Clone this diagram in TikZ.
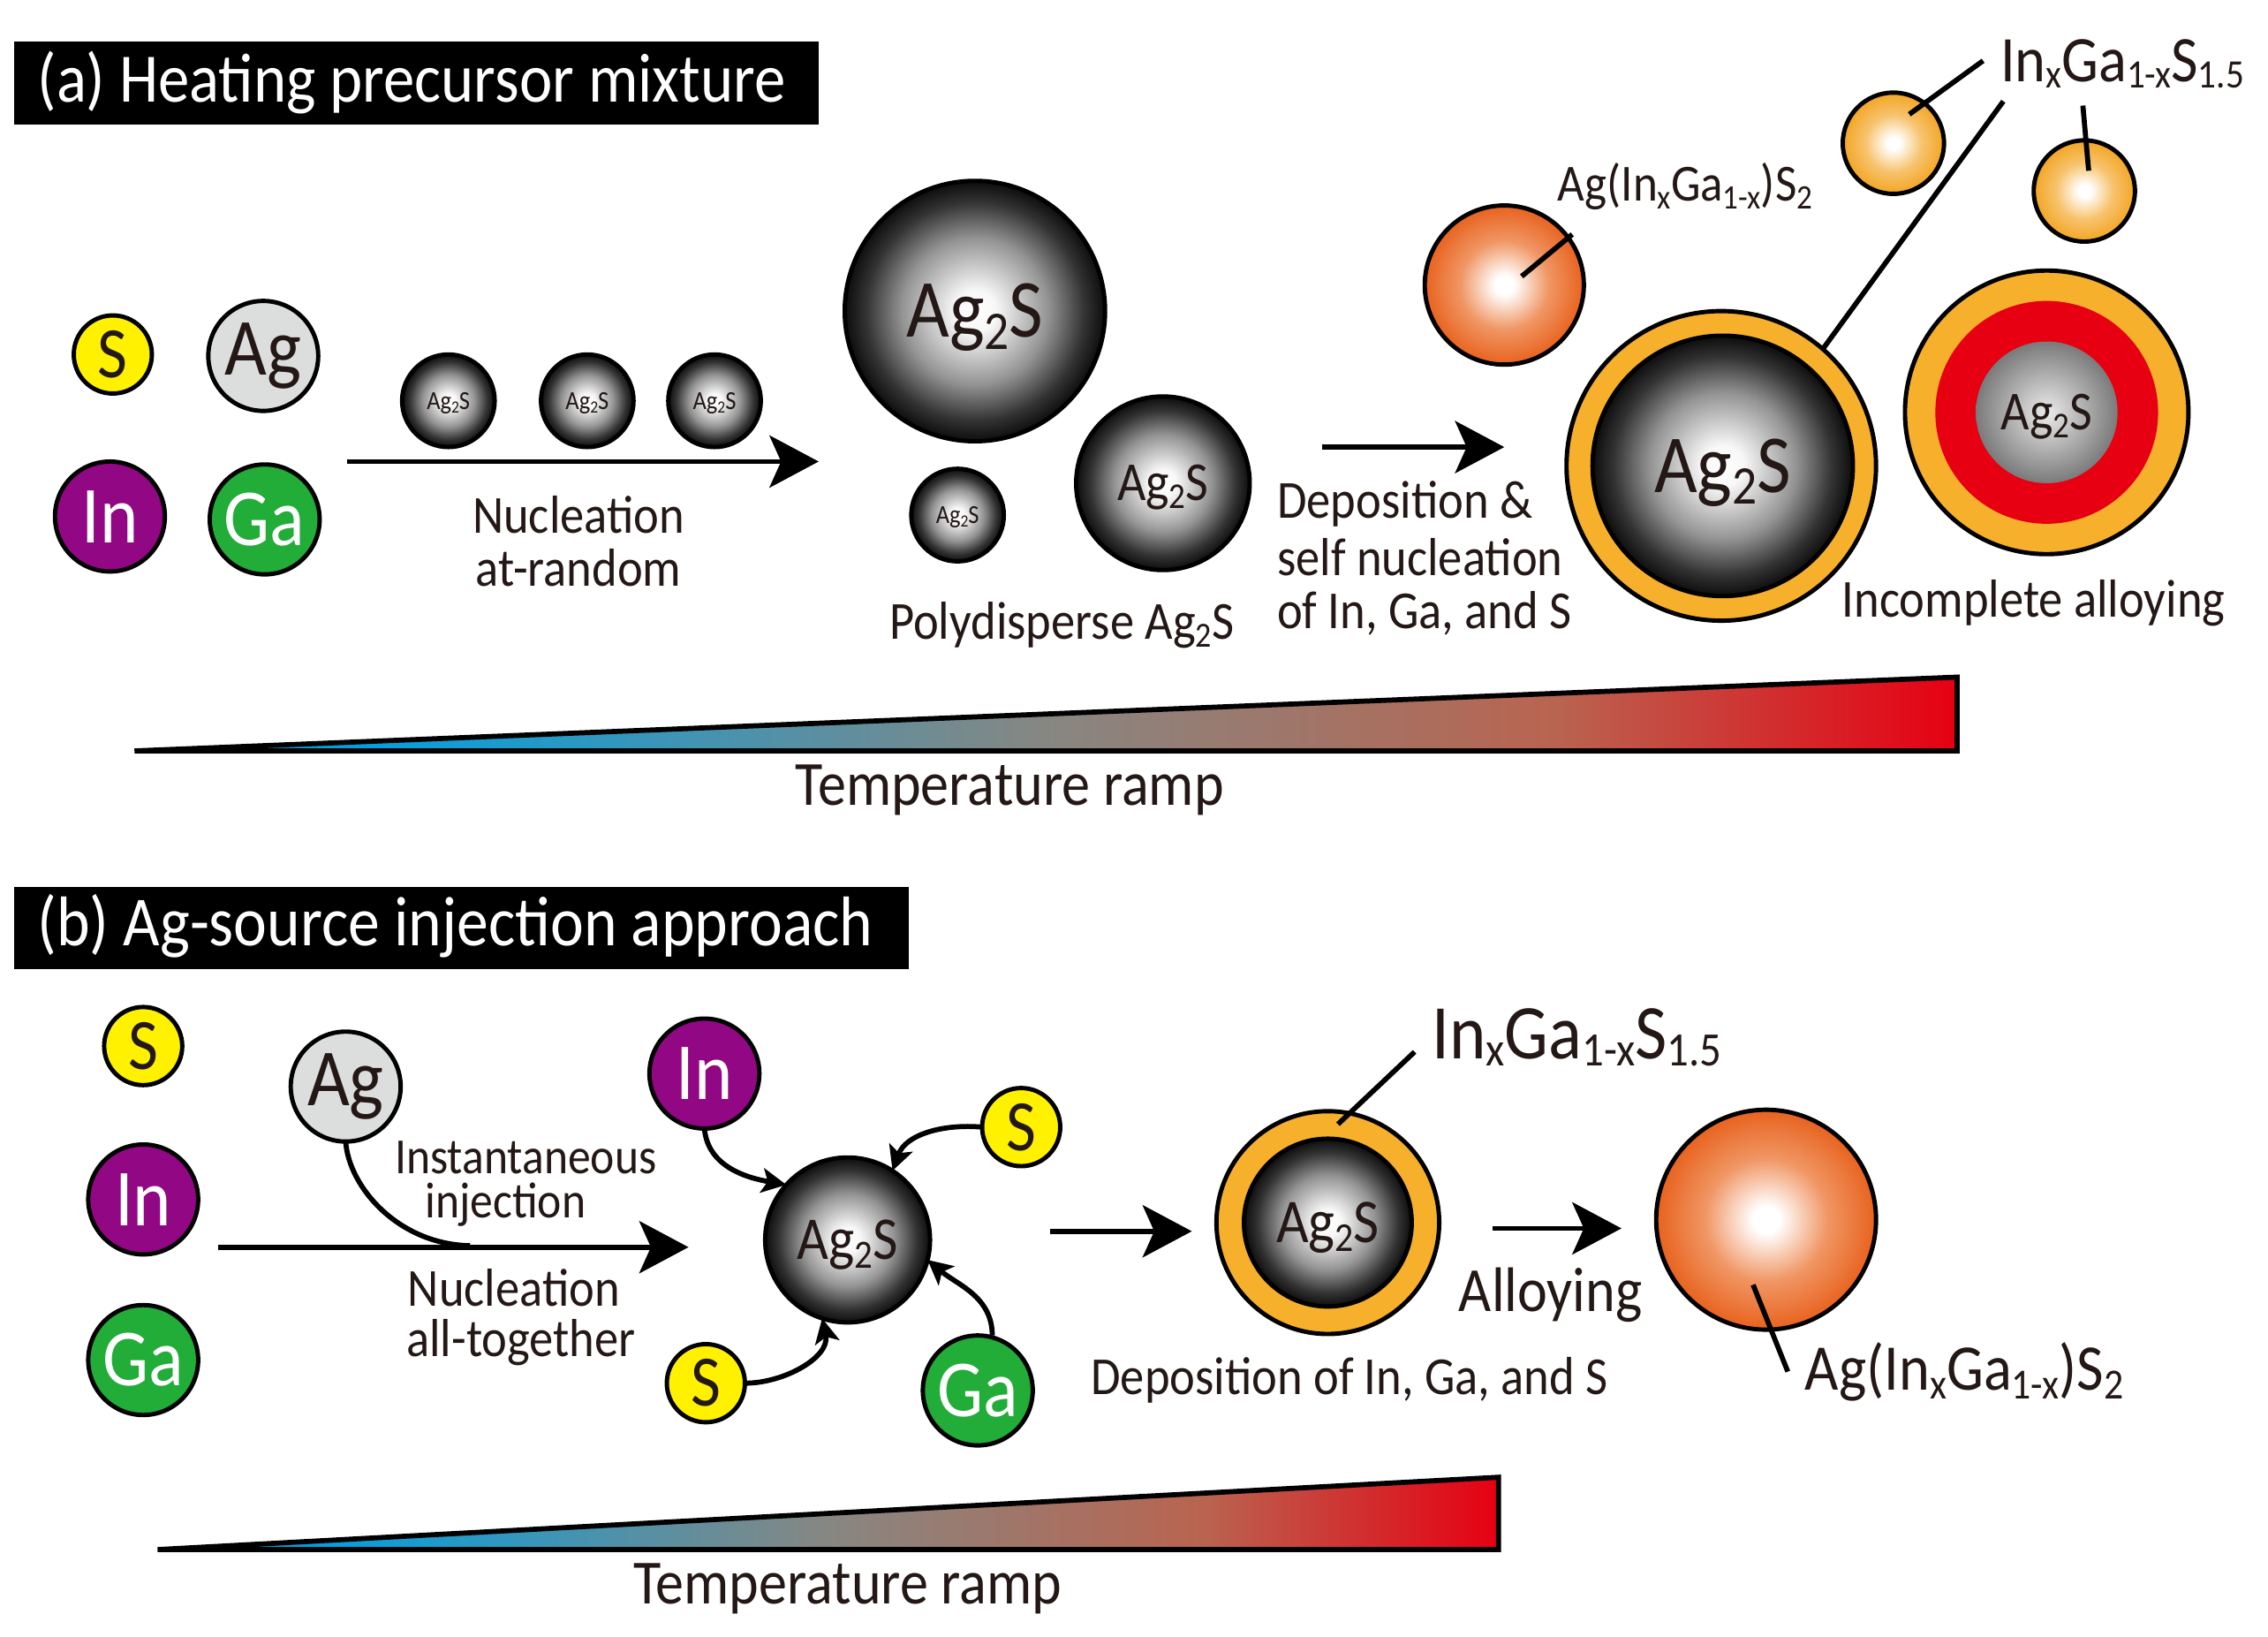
\documentclass[tikz,border=0pt]{standalone}
\usepackage{fontspec}
\setmainfont[FakeStretch=0.9]{Carlito}
\usetikzlibrary{arrows.meta}
\definecolor{ink}{RGB}{35,24,21}
\definecolor{goldc}{RGB}{246,176,44}
\definecolor{redc}{RGB}{230,0,18}
\definecolor{purplec}{RGB}{146,7,131}
\definecolor{greenc}{RGB}{34,172,56}
\definecolor{yellowc}{RGB}{255,241,0}
\definecolor{silverc}{RGB}{220,221,221}
\definecolor{orangeA}{RGB}{240,150,100}
\definecolor{orangeB}{RGB}{232,98,30}
\definecolor{goldA}{RGB}{247,195,110}
\definecolor{goldB}{RGB}{243,165,35}
\definecolor{rampA}{RGB}{0,160,225}
\definecolor{rampB}{RGB}{135,135,130}
\definecolor{rampC}{RGB}{185,100,80}
\pgfdeclareradialshading{agball}{\pgfpointorigin}{color(0bp)=(white);color(4bp)=(white!97!black);color(14bp)=(black!42);color(21bp)=(black!80);color(25bp)=(black!95);color(50bp)=(black!95)}
\pgfdeclareradialshading{agsoft}{\pgfpointorigin}{color(0bp)=(white!92!black);color(25bp)=(black!52);color(50bp)=(black!52)}
\pgfdeclareradialshading{orangeball}{\pgfpointorigin}{color(0bp)=(white);color(3bp)=(white);color(14bp)=(orangeA);color(25bp)=(orangeB);color(50bp)=(orangeB)}
\pgfdeclareradialshading{goldball}{\pgfpointorigin}{color(0bp)=(white);color(3bp)=(white);color(14bp)=(goldA);color(25bp)=(goldB);color(50bp)=(goldB)}
\pgfdeclarehorizontalshading{rampshade}{100bp}{color(0bp)=(rampA);color(31bp)=(rampA);color(50bp)=(rampB);color(64bp)=(rampC);color(75bp)=(redc);color(100bp)=(redc)}
\tikzset{
  x=1pt,y=-1pt,
  every node/.style={inner sep=0pt,outer sep=0pt,text=ink},
  txt/.style={font=\fontsize{37}{37}\selectfont,align=center},
  txtl/.style={font=\fontsize{37}{37}\selectfont,anchor=west},
  bigtxt/.style={font=\fontsize{43.5}{46}\selectfont,align=center},
  banner/.style={fill=black,text=white,anchor=west,font=\fontsize{48}{52}\selectfont},
  atom/.style={circle,draw=black,line width=3pt,minimum size=#1},
  sulfur/.style={atom=54,fill=yellowc,font=\fontsize{50}{50}\selectfont},
  silver/.style={atom=76,fill=silverc,font=\fontsize{56}{56}\selectfont},
  indium/.style={atom=76,fill=purplec,text=white,font=\fontsize{56}{56}\selectfont},
  gallium/.style={atom=76,fill=greenc,text=white,font=\fontsize{56}{56}\selectfont},
  ball/.style={circle,draw=black,line width=3pt,shading=agball,minimum size=#1},
  orb/.style={circle,draw=black,line width=3pt,shading=orangeball,minimum size=#1},
  pearl/.style={circle,draw=black,line width=3pt,shading=goldball,minimum size=70},
  shell/.style={circle,draw=black,line width=3pt,fill=goldc,minimum size=#1},
  bigarrow/.style={draw=black,line width=3.5pt,-{Stealth[length=34pt,width=36pt,inset=8pt]}},
  smallarrow/.style={draw=black,line width=3.5pt,-{Stealth[length=17pt,width=17pt,inset=4pt]}},
  lead/.style={draw=black,line width=3.5pt},
  rampedge/.style={draw=black,line width=3.5pt,line join=miter},
}
\newcommand{\sbs}[1]{\raisebox{-.14em}{\fontsize{\the\dimexpr.66em\relax}{0pt}\selectfont #1}}
\newcommand{\agS}{\raisebox{0pt}[0.64em][0pt]{Ag\sbs{2}S}}
\newcommand{\ls}[1]{\raisebox{-.1em}{\fontsize{\the\dimexpr.62em\relax}{0pt}\selectfont #1}}
\begin{document}
\begin{tikzpicture}
\useasboundingbox (0,0) rectangle (1568,1131);
% ---------- panel (a)
\fill[black] (10,29) rectangle (566,86);
\node[banner] (ta) at (26,57) {(a) Heating precursor mixture};
\node[sulfur] (aS) at (78,245) {S};
\node[silver] (aAg) at (182,246) {Ag};
\node[indium] (aIn) at (76,357) {In};
\node[gallium] (aGa) at (183,359) {Ga};
\coordinate (aA1) at (240,319); \coordinate (aA2) at (566,319);
\draw[bigarrow] (aA1) -- (aA2);
\node[ball=64,font=\fontsize{18}{18}\selectfont] (s1) at (310,277) {\agS};
\node[ball=64,font=\fontsize{18}{18}\selectfont] (s2) at (406,277) {\agS};
\node[ball=64,font=\fontsize{18}{18}\selectfont] (s3) at (494,277) {\agS};
\node[txt] (l1) at (400,374) {Nucleation\\at-random};
\node[ball=180,font=\fontsize{57}{57}\selectfont] (b1) at (674,215) {\agS};
\node[ball=120,font=\fontsize{38}{38}\selectfont] (b2) at (804,334) {\agS};
\node[ball=64,font=\fontsize{18}{18}\selectfont] (b3) at (662,356) {\agS};
\node[txt] (l2) at (734,432) {Polydisperse \agS};
\coordinate (aB1) at (914,309); \coordinate (aB2) at (1040,309);
\draw[bigarrow] (aB1) -- (aB2);
\node[txtl] (l3a) at (883,348) {Deposition \&};
\node[txtl] (l3b) at (883,385) {self nucleation};
\node[txtl] (l3c) at (883,424) {of In, Ga, and S};
\node[orb=110] (o1) at (1040,197) {};
\node[pearl] (p1) at (1309,99) {};
\node[pearl] (p2) at (1441,132) {};
\node[shell=214] (c1) at (1190,322) {};
\node[ball=180,font=\fontsize{57}{57}\selectfont] (c1i) at (1191,322) {\agS};
\node[shell=196] (c2) at (1415,285) {};
\node[circle,fill=redc,minimum size=154] (c2r) at (1415,285) {};
\node[circle,shading=agsoft,minimum size=98,font=\fontsize{38}{38}\selectfont] (c2i) at (1415,285) {\agS};
\node[anchor=west,font=\fontsize{36}{36}\selectfont] (l4) at (1077,129) {Ag(In\sbs{x}Ga\sbs{1-x})S\sbs{2}};
\node[anchor=west,font=\fontsize{45}{45}\selectfont] (l5) at (1383,44) {In\ls{x}Ga\ls{1-x}S\ls{1.5}};
\node[txt] (l6) at (1406,417) {Incomplete alloying};
\coordinate (e1) at (1087,162); \coordinate (e1b) at (1052,191);
\coordinate (e2) at (1371,42); \coordinate (e2b) at (1320,79);
\coordinate (e3) at (1385,70);
\coordinate (e4) at (1440,73); \coordinate (e4b) at (1444,118);
\draw[lead] (e1) -- (e1b);
\draw[lead] (e2) -- (e2b);
\draw[lead] (e3) -- (c1.49);
\draw[lead] (e4) -- (e4b);
\shade[shading=rampshade] (93,519) -- (1353,519) -- (1353,468) -- cycle;
\draw[rampedge] (93,519) -- (1353,519) -- (1353,468) -- cycle;
\node[bigtxt] (r1) at (698,546) {Temperature ramp};
% ---------- panel (b)
\fill[black] (10,613) rectangle (628,670);
\node[banner,font=\fontsize{48.6}{52}\selectfont] (tb) at (26,640) {(b) Ag-source injection approach};
\node[sulfur] (bS) at (99,723) {S};
\node[indium] (bIn) at (99,829) {In};
\node[gallium] (bGa) at (99,940) {Ga};
\node[silver] (bAg) at (239,751) {Ag};
\coordinate (bA1) at (151,862); \coordinate (bA2) at (476,862); \coordinate (bJ) at (325,861);
\draw[bigarrow] (bA1) -- (bA2);
\draw[lead] (bAg.south) .. controls (241,820) and (275,860) .. (bJ);
\node[anchor=north west,align=left,font=\fontsize{35}{30}\selectfont] (l7) at (273,789) {Instantaneous\\\hspace*{21pt}injection};
\node[txtl] (l8a) at (282,890) {Nucleation};
\node[txtl] (l8b) at (281,928) {all-together};
\node[ball=114,font=\fontsize{42}{42}\selectfont] (n) at (586,857) {\agS};
\node[indium] (nIn) at (487,742) {In};
\node[sulfur] (nS1) at (706,779) {S};
\node[sulfur] (nS2) at (488,956) {S};
\node[gallium] (nGa) at (676,961) {Ga};
\draw[smallarrow] (nIn.south) to[out=-85,in=170] (n.138);
\draw[smallarrow] (nS1.west) to[out=175,in=70] (n.57);
\draw[smallarrow] (nS2.east) to[out=0,in=-78] (n.-108);
\draw[smallarrow] (nGa.north) ++(10,0) to[out=90,in=-40] (n.-14);
\coordinate (bB1) at (726,851); \coordinate (bB2) at (824,851);
\draw[bigarrow] (bB1) -- (bB2);
\node[shell=154] (d1) at (918,845) {};
\node[ball=116,font=\fontsize{43}{43}\selectfont] (d1i) at (918,845) {\agS};
\coordinate (e5) at (978,727); \coordinate (e5b) at (925,777);
\draw[lead] (e5) -- (e5b);
\node[anchor=west,font=\fontsize{53.5}{54}\selectfont] (l9) at (990,717) {In\ls{x}Ga\ls{1-x}S\ls{1.5}};
\node[txt] (l10) at (933,954) {Deposition of In, Ga, and S};
\coordinate (bC1) at (1032,849); \coordinate (bC2) at (1121,849);
\draw[bigarrow] (bC1) -- (bC2);
\node[bigtxt] (l11) at (1072,895) {Alloying};
\node[orb=152] (o2) at (1221,843) {};
\coordinate (e6) at (1212,888); \coordinate (e6b) at (1236,948);
\draw[lead] (e6) -- (e6b);
\node[anchor=west,font=\fontsize{45}{45}\selectfont] (l12) at (1248,948) {Ag(In\sbs{x}Ga\sbs{1-x})S\sbs{2}};
\shade[shading=rampshade] (109,1071) -- (1036,1071) -- (1036,1021) -- cycle;
\draw[rampedge] (109,1071) -- (1036,1071) -- (1036,1021) -- cycle;
\node[bigtxt] (r2) at (586,1098) {Temperature ramp};
\end{tikzpicture}
\end{document}
